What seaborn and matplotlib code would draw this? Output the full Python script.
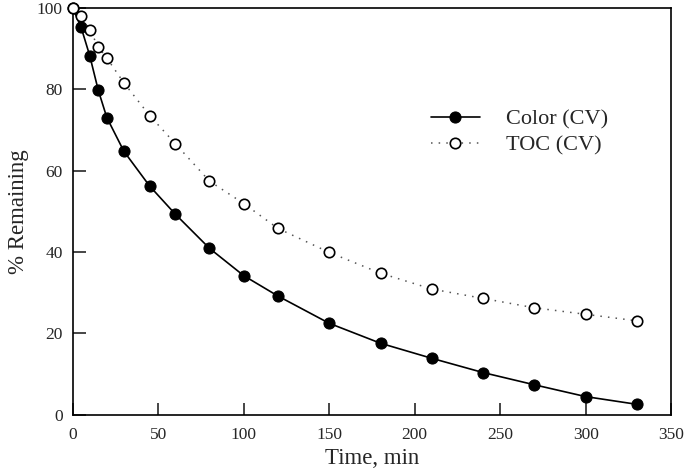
import matplotlib
matplotlib.use("Agg")
import matplotlib.pyplot as plt
import seaborn as sns
import pandas as pd

# Data
time_color = [0, 5, 10, 15, 20, 30, 45, 60, 80, 100, 120, 150, 180, 210, 240, 270, 300, 330]
color_cv = [100, 95.1, 88.2, 79.7, 73.0, 64.7, 56.2, 49.3, 40.9, 34.2, 29.2, 22.5, 17.6, 13.9, 10.4, 7.4, 4.5, 2.6]

time_toc = [0, 5, 10, 15, 20, 30, 45, 60, 80, 100, 120, 150, 180, 210, 240, 270, 300, 330]
toc_cv = [100, 98.0, 94.6, 90.3, 87.6, 81.5, 73.5, 66.6, 57.4, 51.9, 45.8, 39.9, 34.8, 30.9, 28.6, 26.3, 24.7, 23.1]

x_ticks = [0, 50, 100, 150, 200, 250, 300, 350]
y_ticks = [0, 20, 40, 60, 80, 100]

df_color = pd.DataFrame({"time": time_color, "pct": color_cv})
df_toc = pd.DataFrame({"time": time_toc, "pct": toc_cv})

sns.set_style("ticks")
plt.rcParams["font.family"] = ["Liberation Serif", "DejaVu Serif"]

fig = plt.figure(figsize=(6.85, 4.71), dpi=100)
ax = fig.add_axes([0.106, 0.119, 0.874, 0.865])

sns.lineplot(data=df_color, x="time", y="pct", ax=ax, color="black", linewidth=1.2,
             marker="o", markersize=8, markerfacecolor="black", markeredgecolor="black",
             label="Color (CV)", zorder=2, clip_on=False)
sns.lineplot(data=df_toc, x="time", y="pct", ax=ax, color="#555555", linewidth=1.1,
             linestyle=(0, (1, 4)), marker="o", markersize=7.5, markerfacecolor="white",
             markeredgecolor="black", markeredgewidth=1.2, label="TOC (CV)", zorder=3,
             clip_on=False)

ax.set_xlim(0, 350)
ax.set_ylim(0, 100)
ax.set_xticks(x_ticks)
ax.set_yticks(y_ticks)
ax.tick_params(direction="in", length=9, width=1.2, labelsize=12.5, top=False, right=False)
ax.tick_params(axis="x", pad=9)
ax.tick_params(axis="y", pad=7)
for s in ax.spines.values():
    s.set_visible(True)
    s.set_linewidth(1.2)
    s.set_color("black")

ax.set_xlabel("Time, min", fontsize=16.5, labelpad=3)
ax.set_ylabel("% Remaining", fontsize=16.5, labelpad=6)

ax.legend(loc="upper left", bbox_to_anchor=(0.565, 0.80), frameon=False, fontsize=16,
          handlelength=2.2, handletextpad=1.2, labelspacing=0.25)

plt.savefig("out.png", dpi=100)
